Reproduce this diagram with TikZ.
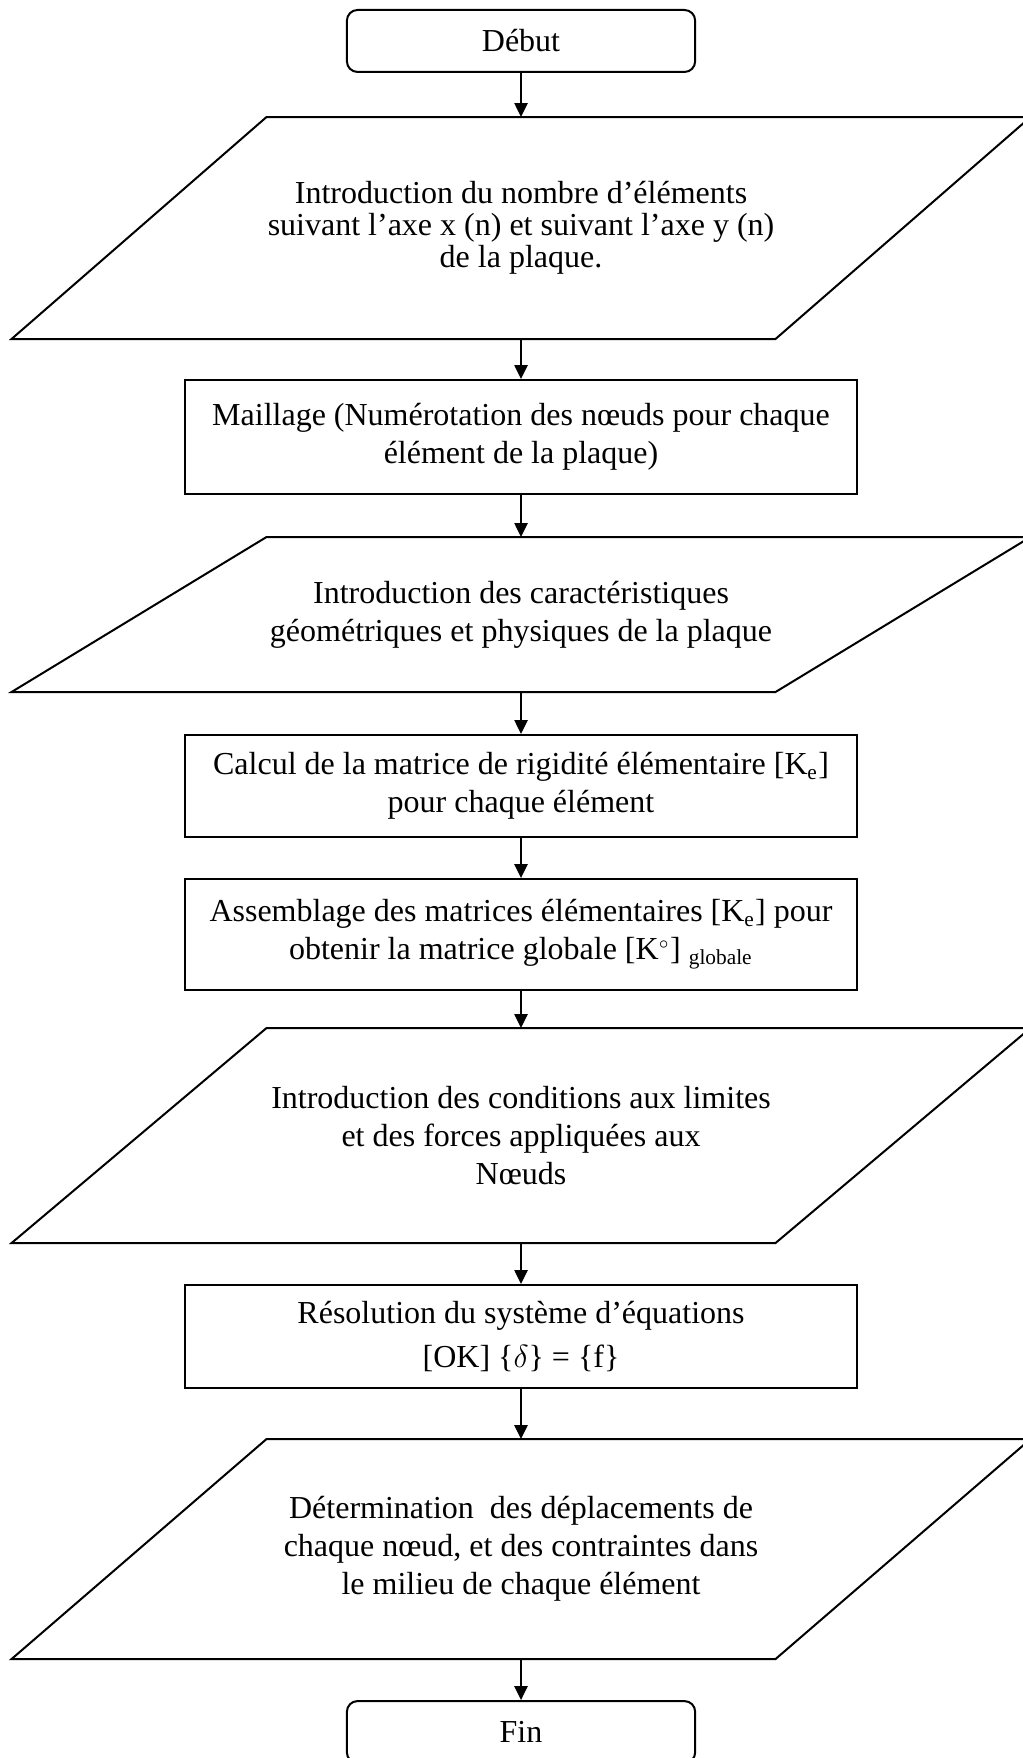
\documentclass[tikz,border=0pt]{standalone}
\usepackage{fontspec}
\setmainfont{Liberation Serif}
\usetikzlibrary{arrows.meta,calc}

\begin{document}
\begin{tikzpicture}[font=\fontsize{12}{14.25}\selectfont, every node/.style={align=center},
    boite/.style={draw,line width=0.75pt,minimum width=8.857cm,inner sep=0pt},
    terminal/.style={draw,line width=0.75pt,rounded corners=4pt,minimum width=4.59cm,minimum height=0.817cm},
    entree/.style={inner sep=0pt,outer sep=0pt,minimum width=13.43cm},
    fleche/.style={-{Triangle[length=5.2pt,width=4.9pt]},line width=0.75pt}]
        \useasboundingbox (-6.867,0) rectangle (6.603,-23.17);

        \node[terminal] (debut) at (0,-0.54) {Début};
        \node[entree,minimum height=2.926cm,font=\fontsize{12}{12}\selectfont]
          (p1) at (0,-3.005) {Introduction du nombre d’éléments\\suivant l’axe x (n) et suivant l’axe y (n)\\de la plaque.};
        \node[boite,minimum height=1.503cm]
          (maillage) at (0,-5.76) {Maillage (Numérotation des nœuds pour chaque\\élément de la plaque)};
        \node[entree,minimum height=2.043cm]
          (p2) at (0,-8.099) {Introduction des caractéristiques\\géométriques et physiques de la plaque};
        \node[boite,minimum height=1.344cm]
          (calcul) at (0,-10.359) {Calcul de la matrice de rigidité élémentaire [K\textsubscript{e}]\\pour chaque élément};
        \node[boite,minimum height=1.463cm]
          (assemb) at (0,-12.317) {Assemblage des matrices élémentaires [K\textsubscript{e}] pour\\obtenir la matrice globale [K$^{\scriptscriptstyle\circ}$] \textsubscript{globale}};
        \node[entree,minimum height=2.834cm]
          (p3) at (0,-14.966) {Introduction des conditions aux limites\\et des forces appliquées aux\\Nœuds};
        \node[boite,minimum height=1.358cm]
          (resol) at (0,-17.615) {Résolution du système d’équations\\[2pt]{[OK]} \{$\delta$\} = \{f\}};
        \node[entree,minimum height=2.9cm]
          (p4) at (0,-20.416) {Détermination~ des déplacements de\\chaque nœud, et des contraintes dans\\le milieu de chaque élément};
        \node[terminal] (fin) at (0,-22.828) {Fin};

        % parallelogrammes d'entree
        \foreach \p in {p1,p2,p3,p4}
          \draw[line width=0.75pt] (\p.south west) -- ([xshift=-3.361cm]\p.south east)
            -- (\p.north east) -- ([xshift=3.361cm]\p.north west) -- cycle;

        \draw[fleche] (debut.south) -- (p1.north);
        \draw[fleche] (p1.south) -- (maillage.north);
        \draw[fleche] (maillage.south) -- (p2.north);
        \draw[fleche] (p2.south) -- (calcul.north);
        \draw[fleche] (calcul.south) -- (assemb.north);
        \draw[fleche] (assemb.south) -- (p3.north);
        \draw[fleche] (p3.south) -- (resol.north);
        \draw[fleche] (resol.south) -- (p4.north);
        \draw[fleche] (p4.south) -- (fin.north);
      \end{tikzpicture}
\end{document}
